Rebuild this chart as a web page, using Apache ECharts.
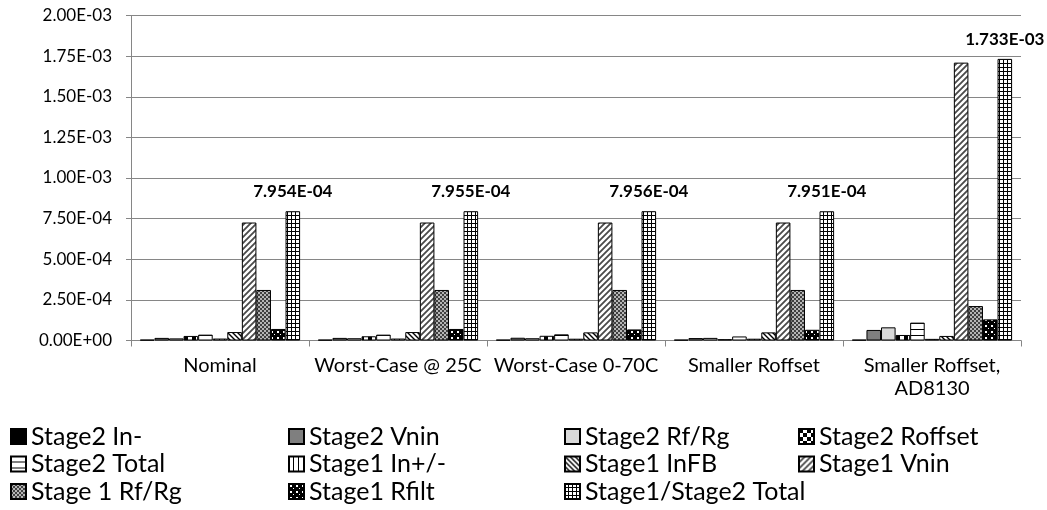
<!DOCTYPE html>
<html>
<head>
<meta charset="utf-8">
<script src="https://cdn.jsdelivr.net/npm/echarts@6/dist/echarts.min.js"></script>
<style>
  html, body { margin: 0; padding: 0; background: #fff; }
  #chart { width: 1047px; height: 510px; }
</style>
</head>
<body>
<div id="chart"></div>
<script>
// Output-referred noise contributions per configuration (V rms)
const categories = ['Nominal', 'Worst-Case @ 25C', 'Worst-Case 0-70C', 'Smaller Roffset', 'Smaller Roffset,\nAD8130'];

const stage2InMinus   = [5e-6, 5e-6, 5e-6, 5e-6, 5e-6];
const stage2Vnin      = [1.6e-5, 1.6e-5, 1.7e-5, 1.5e-5, 6.5e-5];
const stage2RfRg      = [1.3e-5, 1.4e-5, 1.4e-5, 1.6e-5, 8.1e-5];
const stage2Roffset   = [2.8e-5, 2.6e-5, 2.9e-5, 8e-6, 3.4e-5];
const stage2Total     = [3.6e-5, 3.6e-5, 3.8e-5, 2.5e-5, 1.1e-4];
const stage1InPM      = [1.2e-5, 1.2e-5, 1.1e-5, 1.1e-5, 1.0e-5];
const stage1InFB      = [5.2e-5, 5.2e-5, 5.0e-5, 5.0e-5, 2.8e-5];
const stage1Vnin      = [7.26e-4, 7.26e-4, 7.26e-4, 7.26e-4, 1.71e-3];
const stage1RfRg      = [3.11e-4, 3.11e-4, 3.11e-4, 3.11e-4, 2.12e-4];
const stage1Rfilt     = [7.1e-5, 7.1e-5, 6.8e-5, 6.6e-5, 1.3e-4];
const totalNoise      = [7.954e-4, 7.955e-4, 7.956e-4, 7.951e-4, 1.733e-3];

const yTicks = { min: 0, max: 2e-3, interval: 2.5e-4 };

const FONT = 'Lato, "Open Sans", sans-serif';

// Pick a font size so that a sample string spans a given width
const measureCtx = document.createElement('canvas').getContext('2d');
function sizeFor(text, width, weight) {
  measureCtx.font = (weight || 'normal') + ' 100px ' + FONT;
  return Math.round(100 * width / measureCtx.measureText(text).width * 2) / 2;
}
const yLabelSize = sizeFor('2.00E-03', 70);
const catLabelSize = sizeFor('Smaller Roffset', 133);
const valueLabelSize = sizeFor('7.954E-04', 79, 'bold');
const legendSize = Math.round((sizeFor('Stage2 In-', 111) + sizeFor('Stage1/Stage2 Total', 225) + sizeFor('Stage 1 Rf/Rg', 148)) / 3);

// Scientific notation in the spreadsheet style: 7.954E-04
function sci(v, digits) {
  if (v === 0) return (0).toFixed(digits) + 'E+00';
  let exp = Math.floor(Math.log10(Math.abs(v)));
  let mant = v / Math.pow(10, exp);
  if (Math.abs(Number(mant.toFixed(digits))) >= 10) { exp += 1; mant = v / Math.pow(10, exp); }
  const sign = exp < 0 ? '-' : '+';
  const e = String(Math.abs(exp)).padStart(2, '0');
  return mant.toFixed(digits) + 'E' + sign + e;
}

// Small repeating fill tiles
function tile(w, h, draw) {
  const c = document.createElement('canvas');
  c.width = w; c.height = h;
  const g = c.getContext('2d');
  g.fillStyle = '#fff';
  g.fillRect(0, 0, w, h);
  draw(g, w, h);
  return { image: c, repeat: 'repeat' };
}

function diag(size, color, lw, rising) {
  return tile(size, size, (g, w) => {
    g.strokeStyle = color;
    g.lineWidth = lw;
    g.beginPath();
    if (rising) {
      g.moveTo(-1, w + 1); g.lineTo(w + 1, -1);
      g.moveTo(-1, 1); g.lineTo(1, -1);
      g.moveTo(w - 1, w + 1); g.lineTo(w + 1, w - 1);
    } else {
      g.moveTo(-1, -1); g.lineTo(w + 1, w + 1);
      g.moveTo(w - 1, -1); g.lineTo(w + 1, 1);
      g.moveTo(-1, w - 1); g.lineTo(1, w + 1);
    }
    g.stroke();
  });
}

const fills = {
  inMinus: '#000000',
  vnin2: '#7f7f7f',
  rfrg2: '#d9d9d9',
  roffset: tile(8, 8, (g) => { g.fillStyle = '#000'; g.fillRect(0, 0, 4, 4); g.fillRect(4, 4, 4, 4); }),
  total2: tile(4, 6, (g) => { g.fillStyle = '#000'; g.fillRect(0, 5, 4, 1); }),
  inPM: tile(5, 4, (g) => { g.fillStyle = '#000'; g.fillRect(4, 0, 1, 4); }),
  inFB: diag(5, '#000', 1.4, false),
  vnin1: diag(6, '#4a4a4a', 1.8, true),
  rfrg1: tile(4, 4, (g) => {
    g.fillStyle = '#b5b5b5'; g.fillRect(0, 0, 4, 4);
    g.fillStyle = '#404040'; g.fillRect(0, 0, 2, 2); g.fillRect(2, 2, 2, 2);
  }),
  rfilt: tile(6, 6, (g) => {
    g.fillStyle = '#000'; g.fillRect(0, 0, 6, 6);
    g.fillStyle = '#fff'; g.fillRect(1, 1, 2, 2); g.fillRect(4, 4, 1, 1);
  }),
  total: tile(4, 4, (g) => { g.fillStyle = '#000'; g.fillRect(0, 3, 4, 1); g.fillRect(3, 0, 1, 4); })
};

const seriesDefs = [
  ['Stage2 In-', stage2InMinus, fills.inMinus],
  ['Stage2 Vnin', stage2Vnin, fills.vnin2],
  ['Stage2 Rf/Rg', stage2RfRg, fills.rfrg2],
  ['Stage2 Roffset', stage2Roffset, fills.roffset],
  ['Stage2 Total', stage2Total, fills.total2],
  ['Stage1 In+/-', stage1InPM, fills.inPM],
  ['Stage1 InFB', stage1InFB, fills.inFB],
  ['Stage1 Vnin', stage1Vnin, fills.vnin1],
  ['Stage 1 Rf/Rg', stage1RfRg, fills.rfrg1],
  ['Stage1 Rfilt', stage1Rfilt, fills.rfilt],
  ['Stage1/Stage2 Total', totalNoise, fills.total]
];

const series = seriesDefs.map(([name, data, fill], i) => {
  const s = {
    name: name,
    type: 'bar',
    data: data,
    barGap: '0%',
    barCategoryGap: '10%',
    itemStyle: { color: fill, borderColor: '#000', borderWidth: 1 },
    emphasis: { disabled: true },
    animation: false
  };
  if (i === seriesDefs.length - 1) {
    s.label = {
      show: true,
      position: 'top',
      distance: 11,
      fontFamily: FONT,
      fontSize: valueLabelSize,
      fontWeight: 'bold',
      color: '#000',
      formatter: (p) => sci(p.value, 3)
    };
  }
  return s;
});

const names = seriesDefs.map(d => d[0]);
const legendCols = [
  { left: 10,  data: [names[0], names[4], names[8]] },
  { left: 288, data: [names[1], names[5], names[9]] },
  { left: 564, data: [names[2], names[6], names[10]] },
  { left: 798, data: [names[3], names[7]] }
];

const legends = legendCols.map(c => ({
  left: c.left,
  top: 424,
  orient: 'vertical',
  itemWidth: 15,
  itemHeight: 15,
  itemGap: 2.5,
  padding: 0,
  icon: 'rect',
  selectedMode: false,
  textStyle: { fontFamily: FONT, fontSize: legendSize, color: '#000' },
  data: c.data
}));

const chart = echarts.init(document.getElementById('chart'), null, { renderer: 'canvas' });
chart.setOption({
  backgroundColor: '#fff',
  animation: false,
  grid: { left: 131, right: 26, top: 15.5, bottom: 169.5, containLabel: false },
  legend: legends,
  xAxis: {
    type: 'category',
    data: categories,
    axisLine: { show: true, lineStyle: { color: '#868686', width: 1 } },
    axisTick: { show: true, length: 6, lineStyle: { color: '#868686' } },
    axisLabel: { fontFamily: FONT, fontSize: catLabelSize, color: '#000', margin: 14, lineHeight: 23, interval: 0 }
  },
  yAxis: {
    type: 'value',
    min: yTicks.min,
    max: yTicks.max,
    interval: yTicks.interval,
    axisLine: { show: true, lineStyle: { color: '#868686', width: 1 } },
    axisTick: { show: true, length: 5, lineStyle: { color: '#868686' } },
    splitLine: { show: true, lineStyle: { color: '#868686', width: 1 } },
    axisLabel: { fontFamily: FONT, fontSize: yLabelSize, color: '#000', margin: 19, formatter: (v) => sci(v, 2) }
  },
  series: series
});
</script>
</body>
</html>
